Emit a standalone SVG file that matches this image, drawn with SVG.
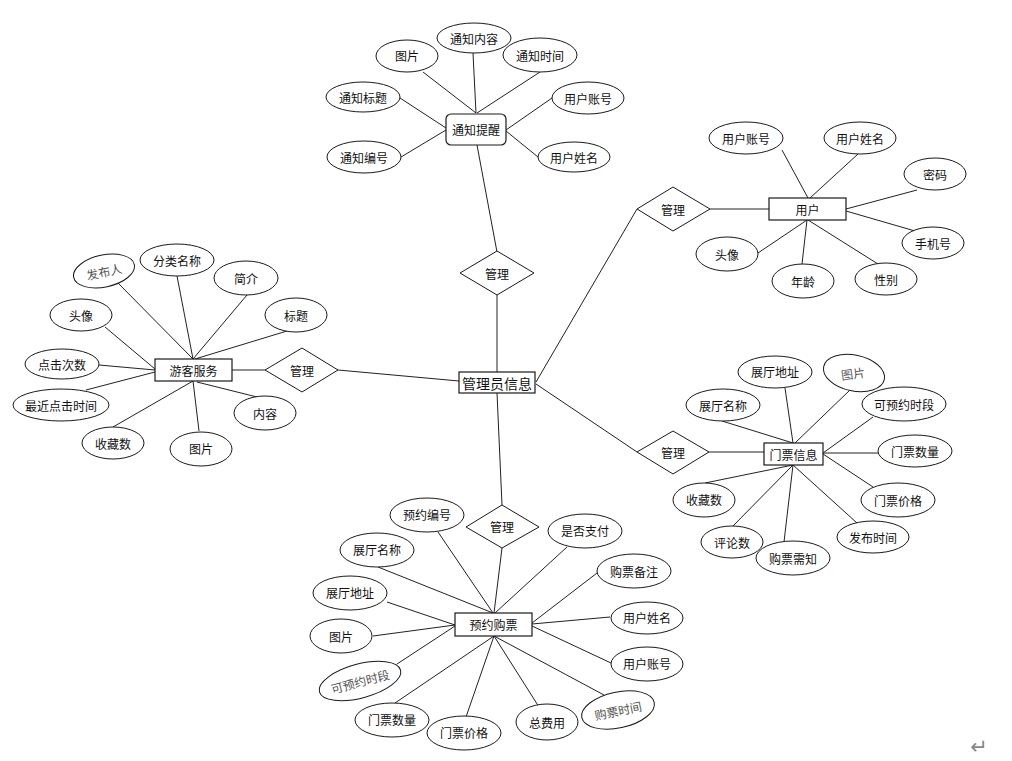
<svg xmlns="http://www.w3.org/2000/svg" width="1012" height="761" viewBox="0 0 1012 761">
<style>
.a ellipse{fill:#fff;stroke:#1a1a1a;stroke-width:1}
.e rect{fill:#fff;stroke:#1a1a1a;stroke-width:1.2}
.r polygon{fill:#fff;stroke:#1a1a1a;stroke-width:1}
text{font-family:"Noto Sans CJK SC","Microsoft YaHei",sans-serif;font-size:12px;fill:#111;text-anchor:middle;dominant-baseline:central}
.g text{fill:#555}
#conn line{stroke:#222;stroke-width:1}
</style>
<rect width="1012" height="761" fill="#fff"/>
<g id="conn">
<line x1="423" y1="72" x2="476" y2="113"/>
<line x1="473" y1="53" x2="476" y2="113"/>
<line x1="540" y1="72" x2="477" y2="113"/>
<line x1="400" y1="98" x2="446" y2="128"/>
<line x1="401" y1="157" x2="446" y2="130"/>
<line x1="552" y1="98" x2="506" y2="130"/>
<line x1="538" y1="157" x2="506" y2="131"/>
<line x1="477" y1="145" x2="497" y2="252"/>
<line x1="497" y1="295" x2="497" y2="372"/>
<line x1="338" y1="370" x2="459" y2="381"/>
<line x1="536" y1="382" x2="637" y2="209"/>
<line x1="536" y1="384" x2="637" y2="452"/>
<line x1="497" y1="393" x2="502" y2="505"/>
<line x1="710" y1="209" x2="769" y2="209"/>
<line x1="782" y1="150" x2="808" y2="198"/>
<line x1="858" y1="154" x2="810" y2="198"/>
<line x1="917" y1="190" x2="846" y2="209"/>
<line x1="915" y1="231" x2="846" y2="211"/>
<line x1="758" y1="253" x2="807" y2="220"/>
<line x1="802" y1="264" x2="807" y2="220"/>
<line x1="878" y1="264" x2="808" y2="220"/>
<line x1="118" y1="283" x2="193" y2="359"/>
<line x1="177" y1="276" x2="193" y2="359"/>
<line x1="247" y1="295" x2="193" y2="359"/>
<line x1="287" y1="331" x2="195" y2="359"/>
<line x1="105" y1="327" x2="155" y2="369"/>
<line x1="99" y1="365" x2="155" y2="370"/>
<line x1="86" y1="390" x2="155" y2="372"/>
<line x1="232" y1="370" x2="265" y2="370"/>
<line x1="113" y1="427" x2="193" y2="381"/>
<line x1="199" y1="431" x2="193" y2="381"/>
<line x1="257" y1="397" x2="197" y2="382"/>
<line x1="709" y1="452" x2="764" y2="452"/>
<line x1="722" y1="421" x2="793" y2="443"/>
<line x1="785" y1="388" x2="793" y2="443"/>
<line x1="850" y1="390" x2="795" y2="443"/>
<line x1="873" y1="417" x2="823" y2="453"/>
<line x1="878" y1="453" x2="823" y2="453"/>
<line x1="873" y1="487" x2="823" y2="454"/>
<line x1="705" y1="483" x2="793" y2="465"/>
<line x1="733" y1="526" x2="793" y2="465"/>
<line x1="784" y1="542" x2="793" y2="465"/>
<line x1="857" y1="523" x2="793" y2="465"/>
<line x1="438" y1="532" x2="493" y2="613"/>
<line x1="378" y1="567" x2="493" y2="613"/>
<line x1="502" y1="548" x2="494" y2="613"/>
<line x1="567" y1="547" x2="495" y2="613"/>
<line x1="597" y1="573" x2="532" y2="623"/>
<line x1="610" y1="617" x2="532" y2="624"/>
<line x1="611" y1="663" x2="532" y2="626"/>
<line x1="387" y1="602" x2="455" y2="625"/>
<line x1="373" y1="636" x2="455" y2="625"/>
<line x1="397" y1="664" x2="455" y2="626"/>
<line x1="395" y1="703" x2="494" y2="636"/>
<line x1="466" y1="717" x2="494" y2="636"/>
<line x1="539" y1="707" x2="494" y2="636"/>
<line x1="604" y1="695" x2="494" y2="636"/>
</g>

<g id="notice" class="e"><rect x="446" y="114" width="60" height="31" rx="5"/><text x="476" y="129.5">通知提醒</text></g>
<g id="n-pic" class="a"><ellipse cx="407" cy="56" rx="31" ry="16"/><text x="407" y="55">图片</text></g>
<g id="n-content" class="a"><ellipse cx="474" cy="38" rx="37" ry="15"/><text x="474" y="38">通知内容</text></g>
<g id="n-time" class="a"><ellipse cx="540" cy="55" rx="37" ry="17"/><text x="540" y="55">通知时间</text></g>
<g id="n-title" class="a"><ellipse cx="363" cy="97" rx="37" ry="15"/><text x="363" y="97">通知标题</text></g>
<g id="n-no" class="a"><ellipse cx="364" cy="157" rx="37" ry="16"/><text x="364" y="157">通知编号</text></g>
<g id="n-acc" class="a"><ellipse cx="588" cy="98" rx="36" ry="16"/><text x="588" y="98">用户账号</text></g>
<g id="n-name" class="a"><ellipse cx="574" cy="157" rx="36" ry="15"/><text x="574" y="157">用户姓名</text></g>
<g id="rel-notice" class="r"><polygon points="497,251 534,273 497,295 460,273"/><text x="497" y="273">管理</text></g>

<g id="admin" class="e"><rect x="459" y="372" width="76" height="21"/><text x="497" y="382.5" style="font-size:14px">管理员信息</text></g>

<g id="rel-user" class="r"><polygon points="637,209 673,187 710,209 673,231"/><text x="673" y="209">管理</text></g>
<g id="user" class="e"><rect x="769" y="198" width="77" height="22"/><text x="807.5" y="209">用户</text></g>
<g id="u-acc" class="a"><ellipse cx="746" cy="138" rx="37" ry="16"/><text x="746" y="138">用户账号</text></g>
<g id="u-name" class="a"><ellipse cx="860" cy="138" rx="36" ry="16"/><text x="860" y="138">用户姓名</text></g>
<g id="u-pwd" class="a"><ellipse cx="935" cy="174" rx="31" ry="16"/><text x="935" y="174">密码</text></g>
<g id="u-phone" class="a"><ellipse cx="933" cy="243" rx="31" ry="16"/><text x="933" y="243">手机号</text></g>
<g id="u-avatar" class="a"><ellipse cx="727" cy="254" rx="31" ry="17"/><text x="727" y="254">头像</text></g>
<g id="u-age" class="a"><ellipse cx="803" cy="281" rx="31" ry="17"/><text x="803" y="281">年龄</text></g>
<g id="u-sex" class="a"><ellipse cx="886" cy="279" rx="31" ry="16"/><text x="886" y="279">性别</text></g>

<g id="tourist" class="e"><rect x="155" y="359" width="77" height="22"/><text x="193.5" y="370">游客服务</text></g>
<g id="rel-tourist" class="r"><polygon points="265,370 302,348 338,370 302,392"/><text x="302" y="370">管理</text></g>
<g id="t-pub" class="a g"><ellipse cx="104" cy="271" rx="31" ry="16" transform="rotate(-12 104 271)"/><text x="104" y="271" transform="rotate(-12 104 271)">发布人</text></g>
<g id="t-cat" class="a"><ellipse cx="177" cy="260" rx="37" ry="16"/><text x="177" y="260">分类名称</text></g>
<g id="t-intro" class="a"><ellipse cx="246" cy="278" rx="32" ry="17"/><text x="246" y="278">简介</text></g>
<g id="t-title" class="a"><ellipse cx="296" cy="315" rx="31" ry="17"/><text x="296" y="315">标题</text></g>
<g id="t-avatar" class="a"><ellipse cx="81" cy="315" rx="31" ry="16"/><text x="81" y="315">头像</text></g>
<g id="t-clicks" class="a"><ellipse cx="62" cy="364" rx="37" ry="15"/><text x="62" y="364">点击次数</text></g>
<g id="t-last" class="a"><ellipse cx="61" cy="405" rx="48" ry="16"/><text x="61" y="405">最近点击时间</text></g>
<g id="t-fav" class="a"><ellipse cx="113" cy="443" rx="31" ry="16"/><text x="113" y="443">收藏数</text></g>
<g id="t-pic" class="a"><ellipse cx="201" cy="449" rx="31" ry="17"/><text x="201" y="448">图片</text></g>
<g id="t-content" class="a"><ellipse cx="265" cy="413" rx="31" ry="17"/><text x="265" y="413">内容</text></g>

<g id="rel-ticket" class="r"><polygon points="637,452 673,431 709,452 673,474"/><text x="673" y="452">管理</text></g>
<g id="ticket" class="e"><rect x="764" y="443" width="59" height="22"/><text x="793.5" y="454">门票信息</text></g>
<g id="k-addr" class="a"><ellipse cx="775" cy="372" rx="37" ry="16"/><text x="775" y="371">展厅地址</text></g>
<g id="k-pic" class="a g"><ellipse cx="854" cy="373" rx="31" ry="18" transform="rotate(12 854 373)"/><text x="853" y="373" transform="rotate(-8 853 373)">图片</text></g>
<g id="k-hall" class="a"><ellipse cx="723" cy="405" rx="37" ry="16"/><text x="723" y="405">展厅名称</text></g>
<g id="k-slot" class="a"><ellipse cx="904" cy="404" rx="42" ry="17"/><text x="904" y="404">可预约时段</text></g>
<g id="k-qty" class="a"><ellipse cx="915" cy="451" rx="37" ry="16"/><text x="915" y="451">门票数量</text></g>
<g id="k-price" class="a"><ellipse cx="898" cy="500" rx="37" ry="17"/><text x="898" y="500">门票价格</text></g>
<g id="k-fav" class="a"><ellipse cx="704" cy="500" rx="31" ry="17"/><text x="704" y="499">收藏数</text></g>
<g id="k-comm" class="a"><ellipse cx="732" cy="542" rx="31" ry="16"/><text x="732" y="542">评论数</text></g>
<g id="k-notice" class="a"><ellipse cx="793" cy="558" rx="37" ry="17"/><text x="793" y="558">购票需知</text></g>
<g id="k-time" class="a"><ellipse cx="873" cy="537" rx="36" ry="16"/><text x="873" y="537">发布时间</text></g>

<g id="rel-booking" class="r"><polygon points="502,505 539,527 502,548 466,527"/><text x="502" y="526">管理</text></g>
<g id="booking" class="e"><rect x="455" y="613" width="77" height="23"/><text x="493.5" y="624.5">预约购票</text></g>
<g id="b-no" class="a"><ellipse cx="427" cy="515" rx="37" ry="17"/><text x="427" y="514">预约编号</text></g>
<g id="b-paid" class="a"><ellipse cx="585" cy="531" rx="37" ry="17"/><text x="585" y="530">是否支付</text></g>
<g id="b-hall" class="a"><ellipse cx="377" cy="550" rx="37" ry="17"/><text x="377" y="549">展厅名称</text></g>
<g id="b-remark" class="a"><ellipse cx="634" cy="571" rx="37" ry="17"/><text x="634" y="571">购票备注</text></g>
<g id="b-addr" class="a"><ellipse cx="350" cy="593" rx="37" ry="17"/><text x="350" y="592">展厅地址</text></g>
<g id="b-name" class="a"><ellipse cx="647" cy="618" rx="36" ry="16"/><text x="647" y="617">用户姓名</text></g>
<g id="b-pic" class="a"><ellipse cx="341" cy="636" rx="31" ry="17"/><text x="341" y="636">图片</text></g>
<g id="b-acc" class="a"><ellipse cx="647" cy="664" rx="36" ry="17"/><text x="647" y="663">用户账号</text></g>
<g id="b-slot" class="a g"><ellipse cx="360" cy="681" rx="42" ry="17" transform="rotate(-15 360 681)"/><text x="360" y="681" transform="rotate(-15 360 681)">可预约时段</text></g>
<g id="b-qty" class="a"><ellipse cx="392" cy="720" rx="37" ry="17"/><text x="392" y="719">门票数量</text></g>
<g id="b-price" class="a"><ellipse cx="464" cy="733" rx="37" ry="17"/><text x="464" y="732">门票价格</text></g>
<g id="b-total" class="a"><ellipse cx="547" cy="722" rx="31" ry="18"/><text x="547" y="722">总费用</text></g>
<g id="b-time" class="a g"><ellipse cx="618" cy="710" rx="37" ry="18" transform="rotate(-12 618 710)"/><text x="618" y="710" transform="rotate(-12 618 710)">购票时间</text></g>

<text x="979" y="747" style="font-family:'DejaVu Sans',sans-serif;font-size:21px;fill:#888">↵</text>
</svg>
